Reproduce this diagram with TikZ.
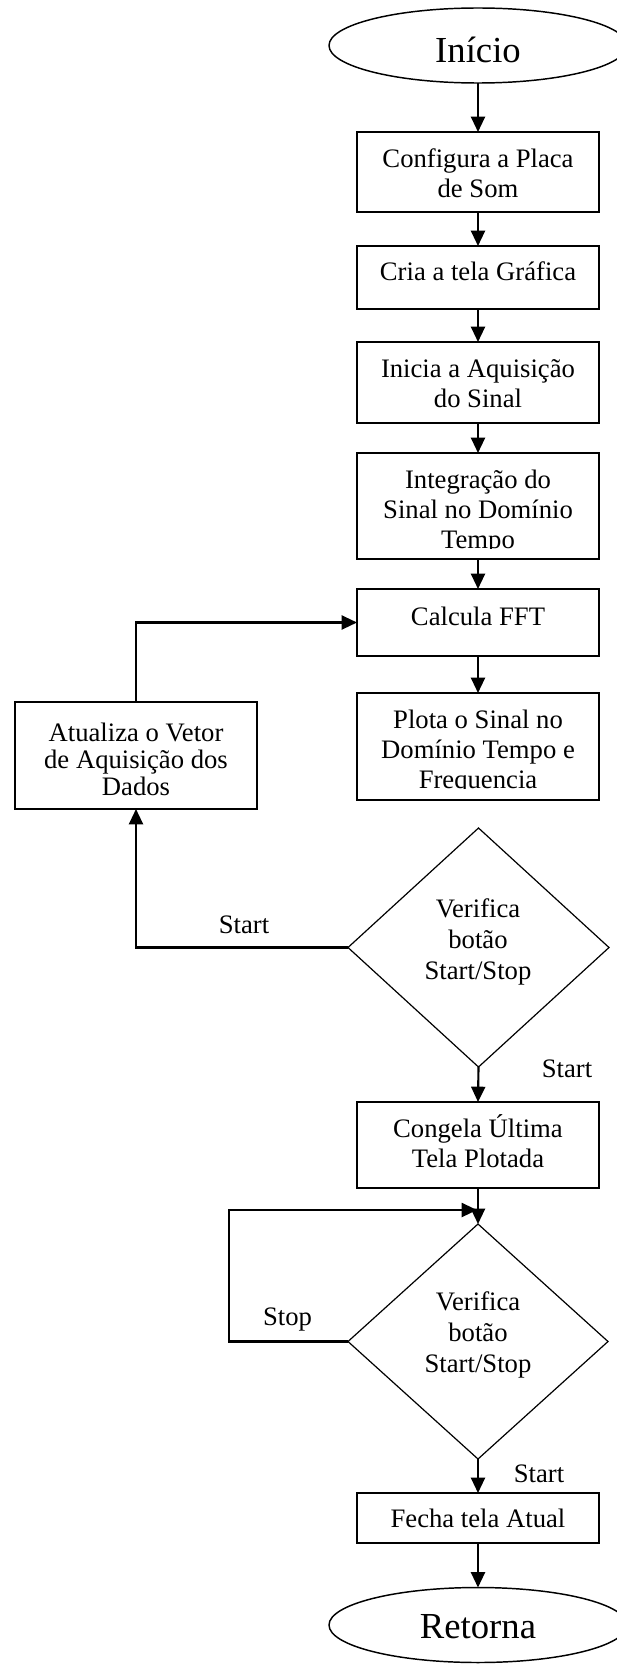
\documentclass[tikz,border=0pt]{standalone}
\usepackage{fontspec}
\setmainfont{Liberation Serif}
\usetikzlibrary{shapes.geometric,arrows.meta}
\newcommand{\mlines}[1]{\parbox[t]{180pt}{\centering #1}}
\begin{document}
\begin{tikzpicture}[x=0.75pt,y=-0.75pt,
  box/.style={draw, line width=1.3pt, minimum width=181.5pt, inner sep=0pt, outer sep=0pt},
  term/.style={draw, ellipse, line width=1.1pt, minimum width=223.5pt, minimum height=56.25pt, inner sep=0pt, outer sep=0pt},
  decis/.style={draw, diamond, line width=0.9pt, minimum width=195.75pt, minimum height=179.25pt, inner sep=0pt, outer sep=0pt},
  txt/.style={anchor=base, inner sep=0pt, outer sep=0pt, font=\fontsize{20}{22.5}\selectfont},
  dtxt/.style={txt, font=\fontsize{20}{23.25}\selectfont},
  big/.style={anchor=base, inner sep=0pt, outer sep=0pt, font=\fontsize{27.5}{30}\selectfont},
  conn/.style={line width=1.6pt, -{Triangle[length=11.5pt,width=10.5pt]}}
]
\path[use as bounding box] (0,0) rectangle (617,1666);
\clip (0,0) rectangle (617,1666);

% terminals
\node[term] (ini) at (478,45.5) {};
\node[big] (tini) at (478,63) {Início};

% boxes
\node[box, minimum height=60pt] (b1) at (478,172) {};
\node[txt] (t1) at (478,167) {\mlines{Configura a Placa\\de Som}};

\node[box, minimum height=47.25pt] (b2) at (478,277.5) {};
\node[txt] (t2) at (478,280) {Cria a tela Gráfica};

\node[box, minimum height=60.75pt] (b3) at (478,382.5) {};
\node[txt] (t3) at (478,377) {\mlines{Inicia a Aquisição\\do Sinal}};

\node[box, minimum height=79.5pt] (b4) at (478,506) {};
\begin{scope}
\clip (357,453) rectangle (599,548.5);
\node[txt] (t4) at (478,488) {\mlines{Integração do\\Sinal no Domínio\\Tempo}};
\end{scope}

\node[box, minimum height=50.25pt] (b5) at (478,622.5) {};
\node[txt] (t5) at (478,625) {Calcula FFT};

\node[box, minimum height=80.25pt] (b6) at (478,746.5) {};
\begin{scope}
\clip (357,693) rectangle (599,788.5);
\node[txt] (t6) at (478,728) {\mlines{Plota o Sinal no\\Domínio Tempo e\\Frequencia}};
\end{scope}

\node[box, minimum height=80.25pt] (b7) at (136,755.5) {};
\node[txt, font=\fontsize{20}{20.5}\selectfont] (t7) at (136,741) {\mlines{Atualiza o Vetor\\de Aquisição dos\\Dados}};

\node[decis] (d1) at (478.5,947.5) {};
\node[dtxt] (td1) at (478,917) {\mlines{Verifica\\botão\\Start/Stop}};

\node[box, minimum height=64.5pt] (b8) at (478,1145) {};
\node[txt] (t8) at (478,1137) {\mlines{Congela Última\\Tela Plotada}};

\node[decis, minimum height=176.25pt, minimum width=195pt] (d2) at (478,1341.5) {};
\node[dtxt] (td2) at (478,1310) {\mlines{Verifica\\botão\\Start/Stop}};

\node[box, minimum height=37.5pt] (b9) at (478,1518) {};
\node[txt] (t9) at (478,1527) {Fecha tela Atual};

\node[term] (ret) at (478,1625) {};
\node[big] (tret) at (478,1638) {Retorna};

% labels
\node[txt] (l1) at (244,933) {Start};
\node[txt] (l2) at (567,1077) {Start};
\node[txt] (l3) at (287.5,1325) {Stop};
\node[txt] (l4) at (539,1482) {Start};

% connectors
\draw[conn] (ini.south) -- (b1.north);
\draw[conn] (b1.south) -- (b2.north);
\draw[conn] (b2.south) -- (b3.north);
\draw[conn] (b3.south) -- (b4.north);
\draw[conn] (b4.south) -- (b5.north);
\draw[conn] (b5.south) -- (b6.north);
\draw[conn] (b7.north) |- (b5.west);
\draw[conn] (d1.west) -| (b7.south);
\draw[conn] (d1.south) -- (b8.north);
\draw[conn] (b8.south) -- (d2.north);
\coordinate (m2) at (477,1210);
\coordinate (k2) at (229,1341.5);
\draw[conn] (d2.west) -- (k2) |- (m2);
\draw[conn] (d2.south) -- (b9.north);
\draw[conn] (b9.south) -- (ret.north);
\end{tikzpicture}
\end{document}
